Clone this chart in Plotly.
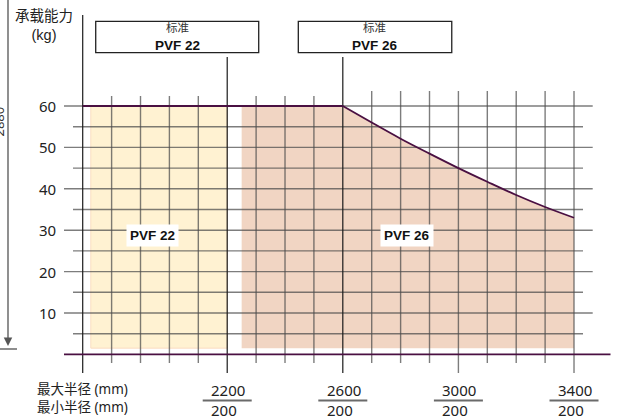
import plotly.graph_objects as go

# ---------------- data ----------------
radius_curve = [2600, 2700, 2800, 2900, 3000, 3100, 3200, 3300, 3400]
capacity_curve = [60, 56.0, 52.1, 48.5, 45.0, 41.7, 38.5, 35.6, 33.0]
flat_start = 1700
flat_capacity = 60

pvf22_range = [1728, 2200]
pvf26_range = [2250, 3400]
fill_floor = 1.5

y_major = [10, 20, 30, 40, 50, 60]
y_minor = [5, 15, 25, 35, 45, 55]
x_grid = list(range(1800, 3401, 100))
x_major = [2200, 2600, 3000, 3400]
x_max_labels = ["2200", "2600", "3000", "3400"]
x_min_labels = ["200", "200", "200", "200"]
model_lines = [2200, 2600]
models = ["PVF 22", "PVF 26"]
model_label_pos = [(1940, 28.8), (2822, 28.6)]
model_boxes = [(1745, 2309), (2446, 2977)]

# ---------------- scale (page pixels <-> data) ----------------
W, H = 619, 418
X_LEFT = 1413.8          # mm at page x = 0
PX_PER_MM = 0.289
Y_TOP = 85.6             # kg at page y = 0
PX_PER_KG = 4.14


def px2x(p):
    return X_LEFT + p / PX_PER_MM


def px2y(p):
    return Y_TOP - p / PX_PER_KG


x_range = [px2x(0), px2x(W)]
y_range = [px2y(H), px2y(0)]

GRID = "rgba(75,75,75,0.72)"
PURPLE = "#4A1042"
CJK = "Noto Sans CJK SC"
SANS = "Noto Sans"
ARIAL = "Liberation Sans"

fig = go.Figure()

# ---------------- fills ----------------
fig.add_trace(go.Scatter(
    x=[pvf22_range[0], pvf22_range[1], pvf22_range[1], pvf22_range[0], pvf22_range[0]],
    y=[fill_floor, fill_floor, flat_capacity, flat_capacity, fill_floor],
    fill="toself", fillcolor="#FFF2D2", mode="lines",
    line=dict(color="#FADDC2", width=1), hoverinfo="skip", showlegend=False))

fx = [pvf26_range[0]] + radius_curve + [pvf26_range[1], pvf26_range[0]]
fy = [flat_capacity] + capacity_curve + [fill_floor, fill_floor]
fig.add_trace(go.Scatter(
    x=fx + [fx[0]], y=fy + [fy[0]],
    fill="toself", fillcolor="#F1D5C3", mode="lines",
    line=dict(color="rgba(0,0,0,0)", width=0), hoverinfo="skip", showlegend=False))

# ---------------- grid ----------------
gx, gy = [], []
for xv in x_grid:
    if xv in model_lines:
        continue
    top = 62.4 if xv < 2600 else 63.6
    bottom = -4.5 if xv in x_major else -2.1
    gx += [xv, xv, None]
    gy += [bottom, top, None]
for yv in y_major:
    gx += [px2x(64), px2x(592.7), None]
    gy += [yv, yv, None]
for yv in y_minor:
    gx += [px2x(73), px2x(583), None]
    gy += [yv, yv, None]
fig.add_trace(go.Scatter(x=gx, y=gy, mode="lines",
                         line=dict(color=GRID, width=1.4),
                         hoverinfo="skip", showlegend=False))

# dark axis & model lines
bx, by = [flat_start, flat_start, None], [px2y(373), px2y(15), None]
for xv in model_lines:
    bx += [xv, xv, None]
    by += [px2y(373), px2y(57), None]
fig.add_trace(go.Scatter(x=bx, y=by, mode="lines",
                         line=dict(color="#1a1a1a", width=1.2),
                         hoverinfo="skip", showlegend=False))

# ---------------- capacity curve & baseline ----------------
fig.add_trace(go.Scatter(x=[flat_start, radius_curve[0]],
                         y=[flat_capacity, capacity_curve[0]],
                         mode="lines", line=dict(color=PURPLE, width=1.8),
                         hoverinfo="skip", showlegend=False))
fig.add_trace(go.Scatter(x=radius_curve, y=capacity_curve,
                         mode="lines", line=dict(color=PURPLE, width=1.8, shape="spline"),
                         hoverinfo="skip", showlegend=False))
fig.add_trace(go.Scatter(x=[px2x(64), px2x(610.5)], y=[0, 0],
                         mode="lines", line=dict(color=PURPLE, width=1.8),
                         hoverinfo="skip", showlegend=False))

annotations = []
shapes = []

# y tick labels
for yv in y_major:
    annotations.append(dict(x=px2x(57.5), y=yv, text=str(yv), showarrow=False,
                            xanchor="right", yanchor="middle",
                            font=dict(family=SANS, size=15, color="#222")))

# x tick labels (fraction style: max radius over min radius)
for xv, top_t, bot_t in zip(x_major, x_max_labels, x_min_labels):
    annotations.append(dict(x=xv - 17 / PX_PER_MM, y=px2y(399.5),
                            text=f"{top_t}<br>{bot_t}", align="left",
                            showarrow=False, xanchor="left", yanchor="middle",
                            borderpad=0,
                            font=dict(family=SANS, size=15, color="#222")))
    shapes.append(dict(type="line", xref="x", yref="y",
                       x0=xv - 24.5 / PX_PER_MM, x1=xv + 24.5 / PX_PER_MM,
                       y0=px2y(400.5), y1=px2y(400.5),
                       line=dict(color="#6a6a6a", width=2)))

# x axis captions
annotations.append(dict(x=px2x(36), y=px2y(398), text="最大半径 (mm)<br>最小半径 (mm)",
                        align="left", showarrow=False, borderpad=0,
                        xanchor="left", yanchor="middle",
                        font=dict(family=f"{SANS}, {CJK}", size=13.5, color="#222")))

# y axis caption
annotations.append(dict(x=px2x(43.5), y=px2y(25), text="承载能力<br>(kg)",
                        showarrow=False, borderpad=0,
                        xanchor="center", yanchor="middle",
                        font=dict(family=f"{ARIAL}, {CJK}", size=14.5, color="#222")))

# model header boxes
for (x0, x1), name in zip(model_boxes, models):
    shapes.append(dict(type="rect", xref="x", yref="y", x0=x0, x1=x1,
                       y0=px2y(52.7), y1=px2y(21.3),
                       line=dict(color="#222", width=1.3), fillcolor="white"))
    xc = (x0 + x1) / 2
    annotations.append(dict(x=xc, y=px2y(37.5),
                            text=f"<span style='font-size:11.5px;color:#333'>标准</span><br><b>{name}</b>",
                            showarrow=False, borderpad=0,
                            xanchor="center", yanchor="middle",
                            font=dict(family=f"{ARIAL}, {CJK}", size=13.5, color="#111")))

# model labels inside areas
for (lx, ly), name in zip(model_label_pos, models):
    annotations.append(dict(x=lx, y=ly, text=f"<b>{name}</b>", showarrow=False,
                            xanchor="center", yanchor="middle", bgcolor="white",
                            borderpad=3,
                            font=dict(family=ARIAL, size=13.5, color="#111")))

# left margin cropped dimension
annotations.append(dict(x=px2x(8), y=px2y(346), ax=px2x(8), ay=px2y(-5),
                        xref="x", yref="y", axref="x", ayref="y",
                        showarrow=True, arrowhead=2, arrowsize=1.3, arrowwidth=1.3,
                        arrowcolor="#555", text=""))
shapes.append(dict(type="line", xref="x", yref="y", x0=px2x(-2), x1=px2x(17),
                   y0=px2y(349), y1=px2y(349), line=dict(color="#444", width=1.2)))
annotations.append(dict(xref="paper", yref="paper", x=-1.5 / W, y=1 - 122 / H,
                        text="2880", textangle=-90,
                        showarrow=False, xanchor="center", yanchor="middle",
                        font=dict(family=SANS, size=13, color="#333")))

fig.update_layout(
    width=W, height=H,
    margin=dict(l=0, r=0, t=0, b=0),
    paper_bgcolor="white", plot_bgcolor="white",
    xaxis=dict(range=x_range, visible=False, fixedrange=True),
    yaxis=dict(range=y_range, visible=False, fixedrange=True),
    showlegend=False,
    annotations=annotations,
    shapes=shapes,
)

fig.write_html("out.html", config={"displayModeBar": False},
               post_script="document.body.style.margin='0';document.body.style.overflow='hidden';")
